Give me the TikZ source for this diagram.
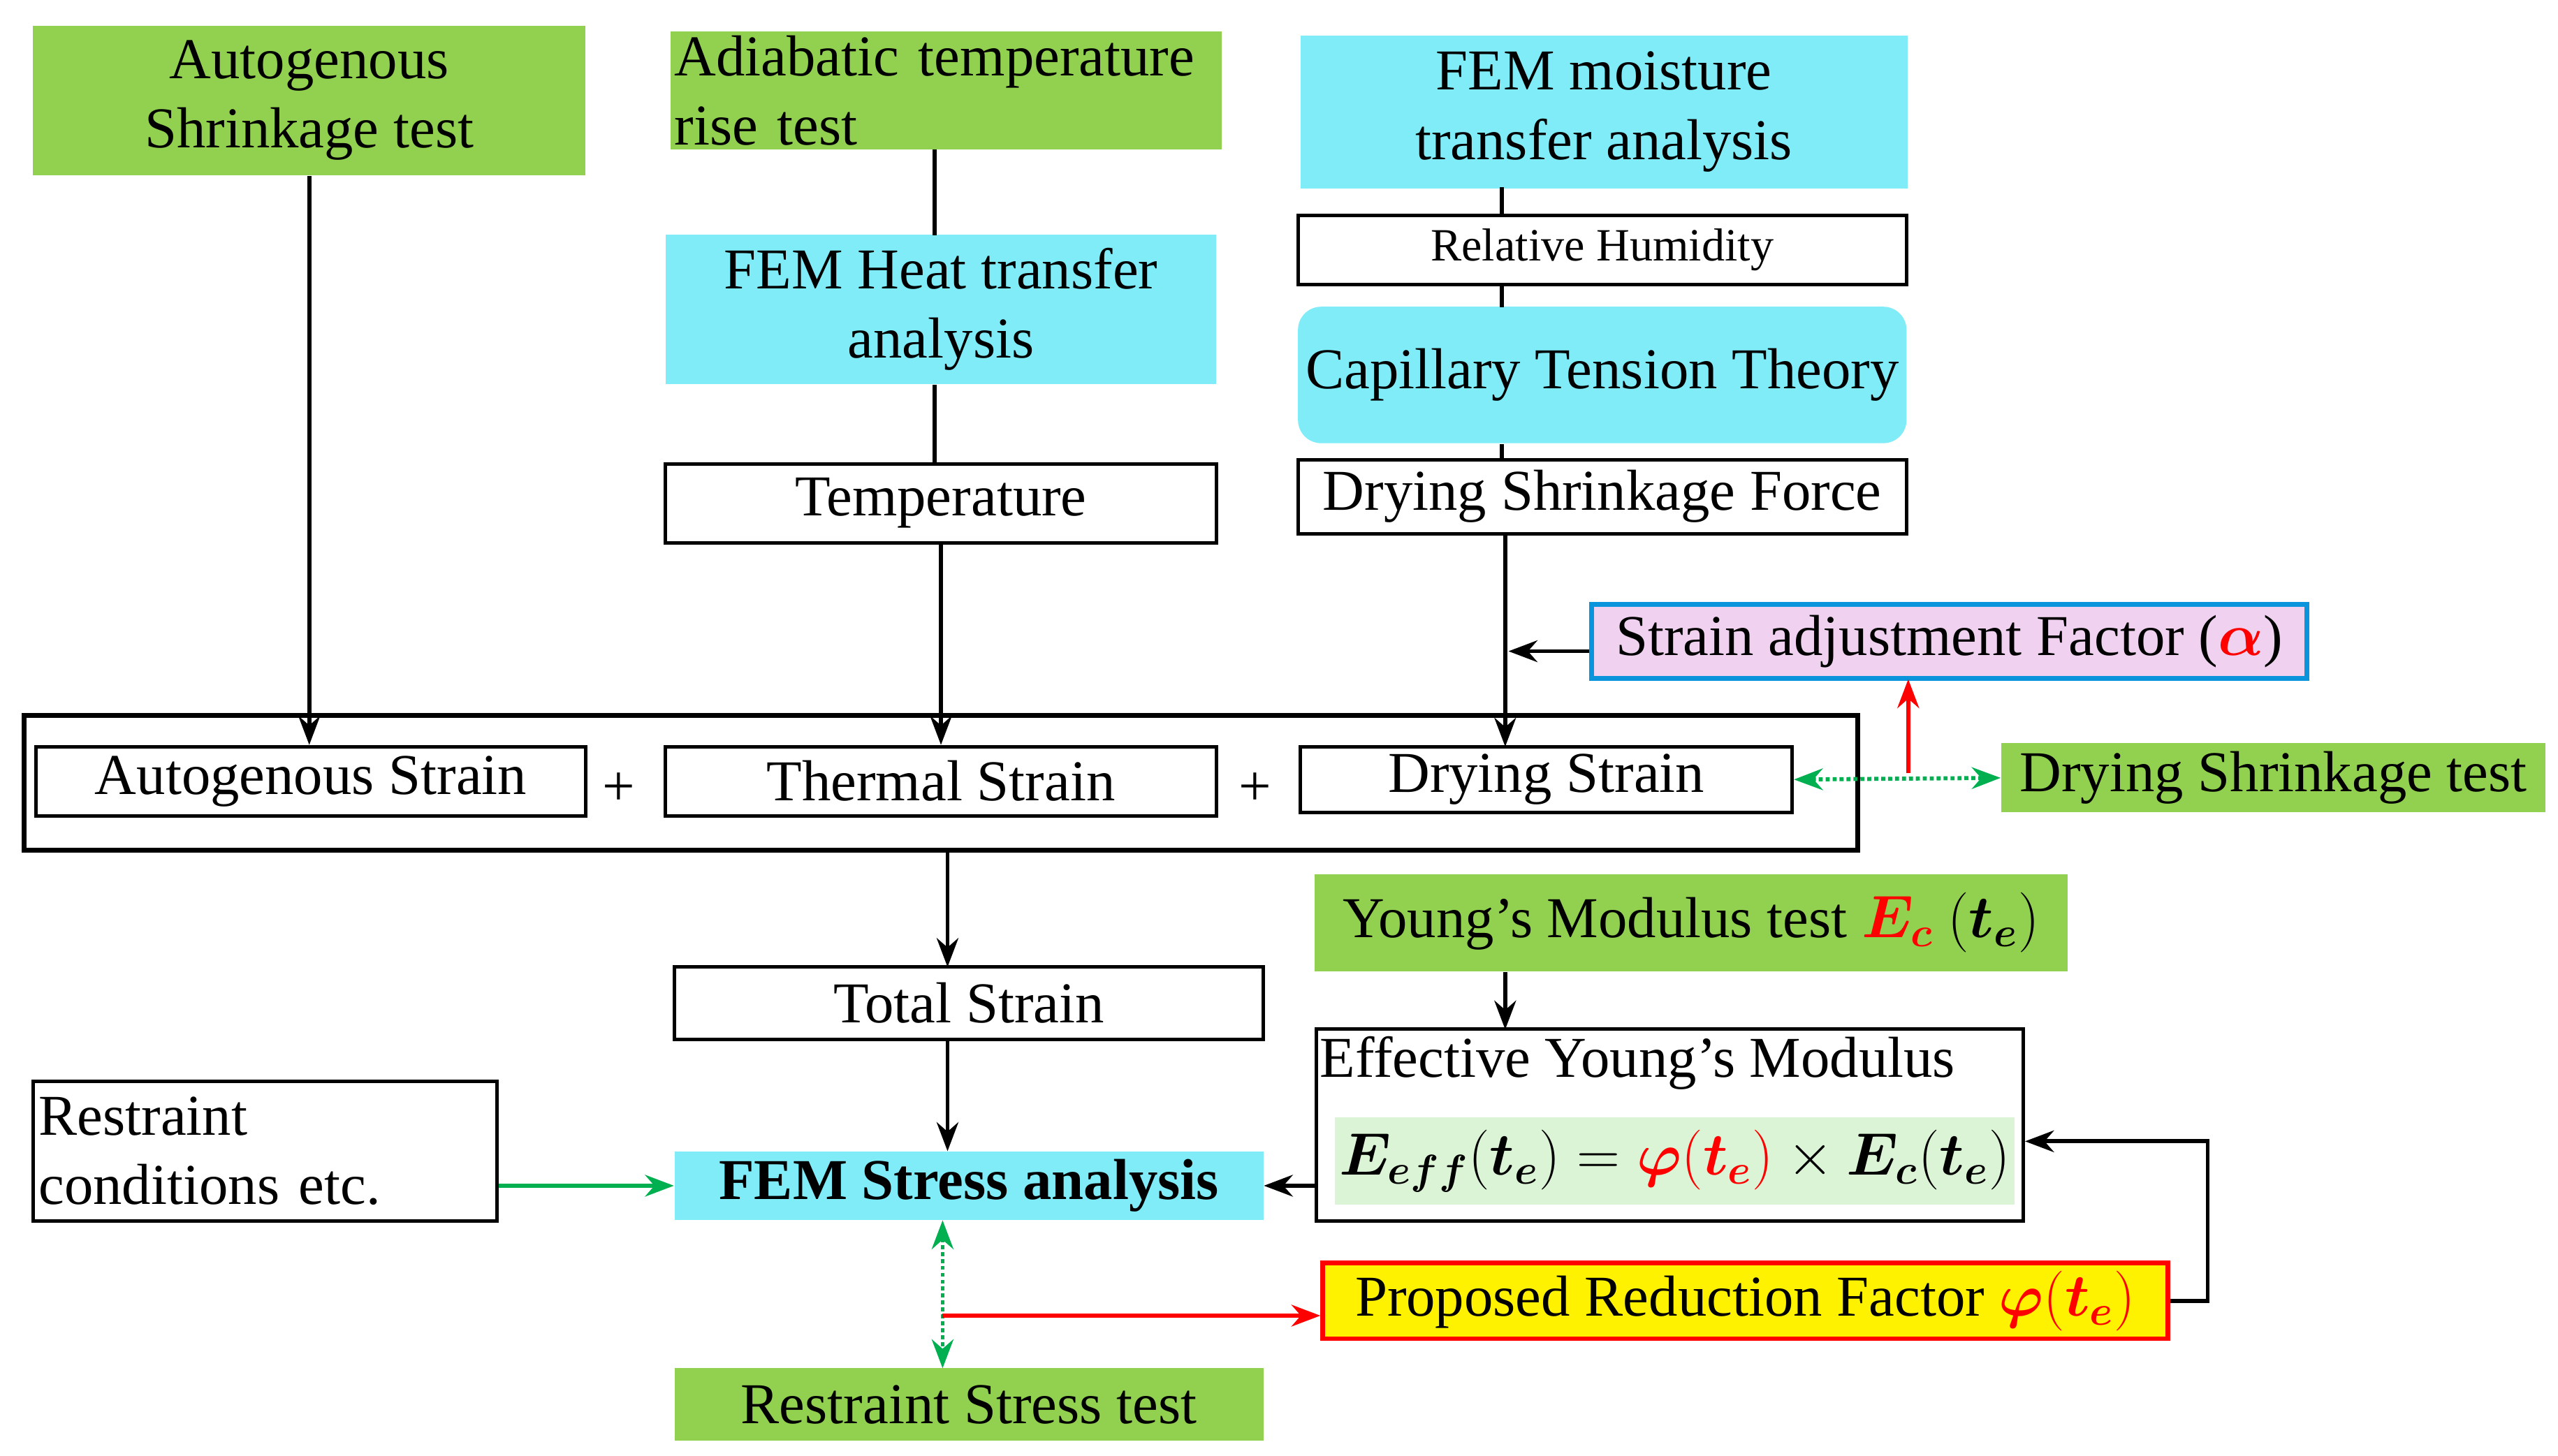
\documentclass[tikz,border=0pt]{standalone}
\usepackage{amsmath,bm}
\usepackage{fontspec}
\setmainfont{Liberation Serif}
\usetikzlibrary{arrows.meta, positioning}
\definecolor{grn}{RGB}{146,208,80}
\definecolor{cyn}{RGB}{128,236,248}
\definecolor{pnk}{RGB}{240,210,240}
\definecolor{lgr}{RGB}{220,244,214}
\definecolor{dgr}{RGB}{0,176,80}
\tikzset{
    box/.style={rectangle, inner sep=0pt, align=center, font=\fontsize{20}{24}\selectfont},
    test/.style={box, fill=grn},
    fem/.style={box, fill=cyn},
    plain/.style={box, draw, line width=1.2pt, fill=white},
    arrow/.style={line width=1.4pt, -{Stealth[length=10pt]}},
    link/.style={line width=1.4pt},
    dotarrow/.style={line width=1.4pt, densely dotted, dgr, {Stealth[length=10pt]}-{Stealth[length=10pt]}}
}
\begin{document}
\begin{tikzpicture}[x=0.02cm, y=-0.02cm]
    \useasboundingbox (0,0) rectangle (1555,885);
    % upper sources
    \node (AST) [test, minimum width=6.72cm, minimum height=1.82cm] at (188,61) {Autogenous\\Shrinkage test};
    \node (ATR) [test, minimum width=6.7cm, minimum height=1.44cm, align=left, text width=6.6cm] at (575,55) {Adiabatic temperature\\rise test};
    \node (FMT) [fem, minimum width=7.38cm, minimum height=1.86cm] at (975,68) {FEM moisture\\transfer analysis};
    \node (FHT) [fem, minimum width=6.7cm, minimum height=1.82cm] at (572,188) {FEM Heat transfer\\analysis};
    \node (RH) [plain, minimum width=7.4cm, minimum height=0.84cm, font=\fontsize{16}{19}\selectfont] at (974,152) {Relative Humidity};
    \node (CTT) [fem, rounded corners=8pt, minimum width=7.4cm, minimum height=1.66cm] at (974,228) {Capillary Tension Theory};
    \node (TMP) [plain, minimum width=6.7cm, minimum height=0.96cm] at (572,306) {Temperature};
    \node (DSF) [plain, minimum width=7.4cm, minimum height=0.9cm] at (974,302) {Drying Shrinkage Force};
    \node (SAF) [box, draw=cyan!80!blue, line width=1.6pt, fill=pnk, minimum width=8.7cm, minimum height=0.9cm] at (1185,390) {Strain adjustment Factor ({\color{red}$\bm\alpha$})};
    % strain sum
    \node (SUM) [draw, line width=1.6pt, minimum width=22.3cm, minimum height=1.64cm] at (572,476) {};
    \node (AS) [plain, minimum width=6.68cm, minimum height=0.84cm] at (189,475) {Autogenous Strain};
    \node (TS) [plain, minimum width=6.7cm, minimum height=0.84cm] at (572,475) {Thermal Strain};
    \node (DS) [plain, minimum width=5.98cm, minimum height=0.8cm] at (940,474) {Drying Strain};
    \node (P1) [box] at (376,480) {+};
    \node (P2) [box] at (763,480) {+};
    \node (DST) [test, minimum width=6.62cm, minimum height=0.84cm] at (1382,473) {Drying Shrinkage test};
    % lower part
    \node (YMT) [test, minimum width=9.16cm, minimum height=1.18cm] at (1028,561) {Young's Modulus test {\color{red}$\bm{E_c}$} $(\bm{t_e})$};
    \node (TOT) [plain, minimum width=7.16cm, minimum height=0.88cm] at (589,610) {Total Strain};
    \node (EYM) [plain, minimum width=8.6cm, minimum height=2.34cm] at (1015,684) {};
    \node (EYT) [box, anchor=north west] at (802,630) {Effective Young's Modulus};
    \node (EQ) [box, fill=lgr, minimum width=8.26cm, minimum height=1.06cm] at (1018,706) {$\bm{E_{eff}}(\bm{t_e}) = {\color{red}\bm\varphi(\bm{t_e})} \times \bm{E_c}(\bm{t_e})$};
    \node (RC) [plain, minimum width=5.64cm, minimum height=1.7cm, align=left, text width=5.5cm] at (161,700) {Restraint\\conditions etc.};
    \node (FSA) [fem, minimum width=7.16cm, minimum height=0.84cm, font=\fontsize{20}{24}\selectfont\bfseries] at (589,721) {FEM Stress analysis};
    \node (PRF) [box, draw=red, line width=1.6pt, fill=yellow, minimum width=10.28cm, minimum height=0.92cm] at (1061,791) {Proposed Reduction Factor {\color{red}$\bm\varphi(\bm{t_e})$}};
    \node (RST) [test, minimum width=7.16cm, minimum height=0.88cm] at (589,854) {Restraint Stress test};
    % connectors
    \draw [arrow] (AST) -- (AST |- AS.north);
    \draw [link] (568,91) -- (568,143);
    \draw [link] (568,234) -- (568,282);
    \draw [arrow] (TMP) -- (TMP |- TS.north);
    \draw [link] (913,114) -- (913,131);
    \draw [link] (913,173) -- (913,187);
    \draw [link] (913,270) -- (913,280);
    \draw [arrow] (915,325) -- (915,454);
    \draw [arrow] (SAF.west |- 0,396) -- (917,396);
    \draw [line width=1.4pt, red, -{Stealth[length=10pt]}] (1160,470) -- (1160,413);
    \draw [dotarrow] (DS.east) -- (DST.west);
    \draw [arrow] (576,517) -- (576,588);
    \draw [arrow] (576,632) -- (576,700);
    \draw [arrow] (915,591) -- (915,626);
    \draw [arrow] (EYM.west |- FSA) -- (FSA.east);
    \draw [line width=1.4pt, dgr, -{Stealth[length=10pt]}] (RC.east |- FSA) -- (FSA.west);
    \draw [dotarrow] (573,742) -- (573,832);
    \draw [line width=1.4pt, red, -{Stealth[length=10pt]}] (573,800) -- (PRF.west |- 0,800);
    \draw [arrow] (PRF.east) -- (1342,791) -- (1342,694) -- (EYM.east |- 0,694);
\end{tikzpicture}
\end{document}
